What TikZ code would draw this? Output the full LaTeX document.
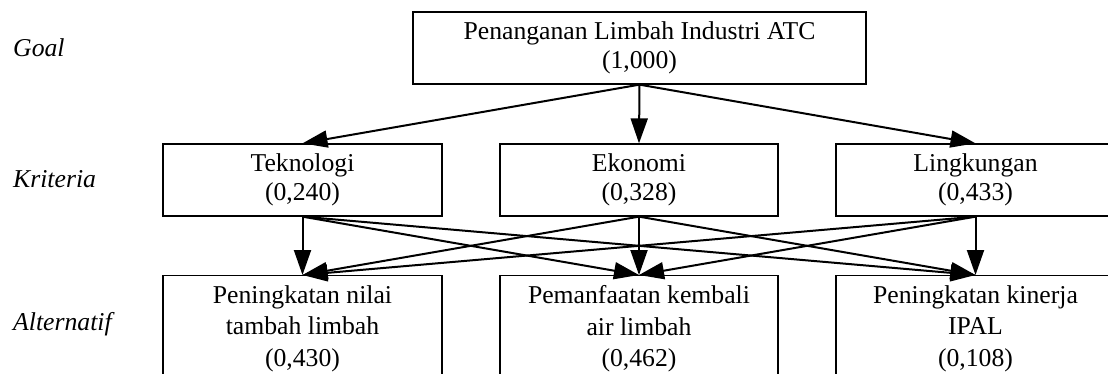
\documentclass[tikz,border=0pt]{standalone}
\usepackage{fontspec}
\setmainfont{Liberation Serif}
\usetikzlibrary{arrows.meta}
\begin{document}
\begin{tikzpicture}[x=1pt,y=-1pt,
  txt/.style={font=\fontsize{25.7}{28.5}\selectfont},
  box/.style={draw, line width=1.3pt, txt, align=center, inner sep=0pt},
  lvl/.style={txt, font=\fontsize{25.7}{29}\selectfont\itshape, anchor=base west, inner sep=0pt},
  arr/.style={line width=2pt, -{Triangle[length=25pt,width=17pt]}}
]
\useasboundingbox (0,0) rectangle (1108,374);
\clip (0,0) rectangle (1108,374);
\node[lvl] (lg) at (13,57) {Goal};
\node[lvl] (lk) at (13,188) {Kriteria};
\node[lvl] (la) at (13,330) {Alternatif};

\node[box, minimum width=453pt, minimum height=72pt] (goal) at (639.5,48) {Penanganan Limbah Industri ATC\\(1,000)};

\node[box, minimum width=279pt, minimum height=72pt] (k1) at (302.5,180) {Teknologi\\(0,240)};
\node[box, minimum width=278pt, minimum height=72pt] (k2) at (639,180) {Ekonomi\\(0,328)};
\node[box, minimum width=279pt, minimum height=72pt] (k3) at (975.5,180) {Lingkungan\\(0,433)};

\node[box, font=\fontsize{25.7}{31.5}\selectfont, minimum width=279pt, inner ysep=10pt, anchor=north] (a1) at (302.5,275) {Peningkatan nilai\\tambah limbah\\(0,430)};
\node[box, font=\fontsize{25.7}{31.5}\selectfont, minimum width=278pt, inner ysep=10pt, anchor=north] (a2) at (639,275) {Pemanfaatan kembali\\air limbah\\(0,462)};
\node[box, font=\fontsize{25.7}{31.5}\selectfont, minimum width=279pt, inner ysep=10pt, anchor=north] (a3) at (975.5,275) {Peningkatan kinerja\\IPAL\\(0,108)};

\foreach \k in {k1,k2,k3} {
  \draw[arr] (goal.south) -- (\k.north);
  \foreach \a in {a1,a2,a3} {
    \draw[arr] (\k.south) -- (\a.north);
  }
}
\end{tikzpicture}
\end{document}
